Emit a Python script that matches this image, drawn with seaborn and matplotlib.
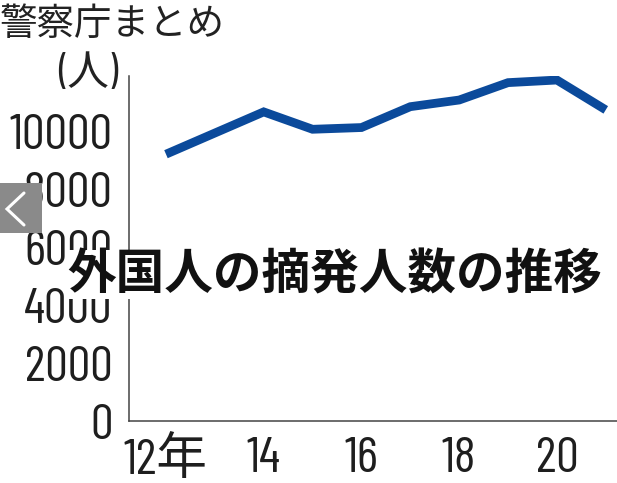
import pandas as pd
import seaborn as sns
import matplotlib.pyplot as plt
from matplotlib import font_manager
from matplotlib.patches import Rectangle
from matplotlib.lines import Line2D

# 外国人の摘発人数（警察庁まとめ）
years = [2012, 2013, 2014, 2015, 2016, 2017, 2018, 2019, 2020, 2021]
counts = [9220, 9950, 10680, 10080, 10140, 10860, 11090, 11690, 11780, 10750]
yticks = [0, 2000, 4000, 6000, 8000, 10000]
xticks = [2012, 2014, 2016, 2018, 2020]
xlabels = ['12年', '14', '16', '18', '20']

df = pd.DataFrame({'year': years, 'count': counts})

sns.set_theme(style='white')
installed = {f.name for f in font_manager.fontManager.ttflist}
num_font = 'DejaVu Sans'
for cand in ['Barlow Condensed', 'Roboto Condensed', 'PT Sans Narrow', 'Archivo Narrow']:
    if cand in installed:
        num_font = cand
        break
jp_font = 'Noto Sans CJK JP'
plt.rcParams['font.family'] = [num_font, jp_font, 'DejaVu Sans']

fig = plt.figure(figsize=(6.17, 4.83), dpi=100)
ax = fig.add_axes([0.2096, 0.1278, 0.7904, 0.7149])

sns.lineplot(data=df, x='year', y='count', ax=ax, color='#0b4a9b',
             linewidth=6.3, solid_capstyle='butt', solid_joinstyle='miter')

ax.set_xlim(2011.25, 2021.23)
ax.set_ylim(0, 11920)
ax.set_xticks(xticks)
ax.set_xticklabels(xlabels)
ax.set_yticks(yticks)
ax.set_yticklabels([str(v) for v in yticks])
ax.set_xlabel('')
ax.set_ylabel('')

for side in ['top', 'right']:
    ax.spines[side].set_visible(False)
for side in ['left', 'bottom']:
    ax.spines[side].set_color('#444444')
    ax.spines[side].set_linewidth(1.1)

ax.tick_params(axis='both', direction='in', length=8.5, width=1.1,
               color='#444444', labelsize=36.5, labelcolor='#1e1e1e')
ax.tick_params(axis='y', pad=12)
ax.tick_params(axis='x', pad=11)

# 見出し
fig.text(0.0, 0.99, '警察庁まとめ', ha='left', va='top', fontsize=27,
         color='#222222', family=[jp_font, 'DejaVu Sans'])
fig.text(0.191, 0.845, '(人)', ha='right', va='center', fontsize=30,
         color='#222222', family=[num_font, jp_font])

fig.text(0.543, 0.431, '外国人の摘発人数の推移', ha='center', va='center',
         fontsize=35, fontweight='bold', color='#111111',
         family=[jp_font, 'DejaVu Sans'],
         bbox=dict(facecolor='white', edgecolor='none', pad=0), zorder=5)

# 左端の矢印ボタン
fig.patches.append(Rectangle((0.0, 1 - 233 / 483), 42 / 617, 50 / 483,
                             transform=fig.transFigure, facecolor='#8a8a8a',
                             edgecolor='none', zorder=6))
fig.lines.append(Line2D([24 / 617, 7 / 617, 24 / 617],
                        [1 - 193 / 483, 1 - 209 / 483, 1 - 225 / 483],
                        transform=fig.transFigure, color='white', linewidth=2.2,
                        solid_joinstyle='miter', zorder=7))

fig.savefig('out.png', dpi=100)
